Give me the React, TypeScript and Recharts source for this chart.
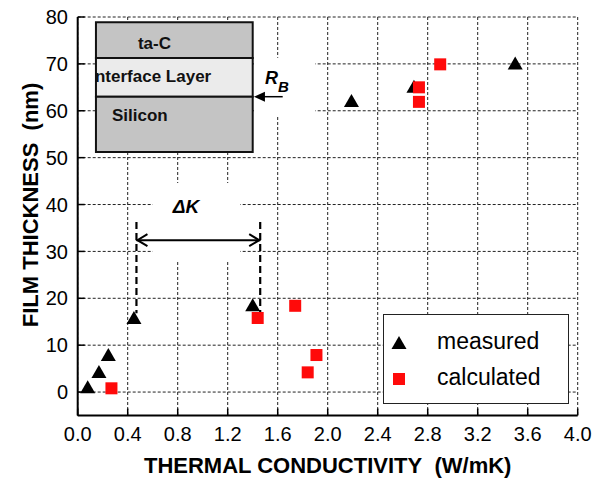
import {
  CartesianGrid,
  Label,
  Legend,
  ReferenceArea,
  ReferenceLine,
  Scatter,
  ScatterChart,
  XAxis,
  YAxis,
} from "recharts"

// thermal conductivity (W/mK) and film thickness (nm)
const measuredK = [0.08, 0.17, 0.245, 0.45, 1.4, 2.19, 2.69, 3.5]
const measuredT = [1.0, 4.3, 7.9, 15.8, 18.5, 62.1, 65.1, 70.1]
const calculatedK = [0.27, 1.44, 1.74, 1.84, 1.91, 2.73, 2.73, 2.9]
const calculatedT = [0.8, 15.8, 18.4, 4.2, 7.9, 61.9, 65.0, 69.9]

const xMajorTicks = [0, 0.4, 0.8, 1.2, 1.6, 2.0, 2.4, 2.8, 3.2, 3.6, 4.0]
const xMinorTicks = [0.2, 0.6, 1.0, 1.4, 1.8, 2.2, 2.6, 3.0, 3.4, 3.8]
const yMajorTicks = [0, 10, 20, 30, 40, 50, 60, 70, 80]
const yMinorTicks = [-5, 5, 15, 25, 35, 45, 55, 65, 75]

const seriesNames = ["measured", "calculated"]

const measured = measuredK.map((k, i) => ({ k, t: measuredT[i] }))
const calculated = calculatedK.map((k, i) => ({ k, t: calculatedT[i] }))

const FONT = "'Liberation Sans', Arial, sans-serif"
const RED = "#ff0a0a"
const SP = "\u00a0\u00a0"

const Triangle = ({ cx, cy }: any) => (
  <polygon points={`${cx},${cy - 7} ${cx + 7.5},${cy + 6} ${cx - 7.5},${cy + 6}`} fill="#000" />
)

const Square = ({ cx, cy }: any) => <rect x={cx - 6} y={cy - 6} width={12} height={12} fill={RED} />

// line with open chevrons on both ends (delta K)
const DoubleArrow = (p: any) => {
  const { x1, y1, x2, y2 } = p
  const a = Math.min(x1, x2)
  const b = Math.max(x1, x2)
  return (
    <g stroke="#000" strokeWidth={2} fill="none">
      <line x1={a} y1={y1} x2={b} y2={y2} />
      <polyline points={`${a + 11},${y1 - 6} ${a + 1},${y1} ${a + 11},${y1 + 6}`} />
      <polyline points={`${b - 11},${y1 - 6} ${b - 1},${y1} ${b - 11},${y1 + 6}`} />
    </g>
  )
}

// R_B pointer with filled head at the end point
const Pointer = (p: any) => {
  const { x1, y1, x2, y2 } = p
  return (
    <g>
      <line x1={x1} y1={y1} x2={x2 + 8} y2={y2} stroke="#000" strokeWidth={1.5} />
      <polygon points={`${x2},${y2} ${x2 + 11},${y2 - 5} ${x2 + 11},${y2 + 5}`} fill="#000" />
    </g>
  )
}

const DashedMark = (p: any) => (
  <line x1={p.x1} y1={p.y1} x2={p.x2} y2={p.y2} stroke="#000" strokeWidth={2.2} strokeDasharray="7 4" />
)

const boxText = (text: string, dx: number, dy: number, clipId?: string) => (p: any) => {
  const vb = p.viewBox
  return (
    <g>
      {clipId && (
        <defs>
          <clipPath id={clipId}>
            <rect x={vb.x} y={vb.y} width={vb.width} height={vb.height} />
          </clipPath>
        </defs>
      )}
      <text
        x={vb.x + dx}
        y={vb.y + dy}
        fontFamily={FONT}
        fontWeight="bold"
        fontSize={17}
        fill="#111"
        clipPath={clipId ? `url(#${clipId})` : undefined}
      >
        {text}
      </text>
    </g>
  )
}

const deltaKLabel = (p: any) => {
  const vb = p.viewBox
  return (
    <text x={vb.x + 20} y={vb.y + 30.5} fontFamily={FONT} fontWeight="bold" fontStyle="italic" fontSize={19} fill="#000">
      ΔK
    </text>
  )
}

const rbLabel = (p: any) => {
  const vb = p.viewBox
  return (
    <text x={vb.x + 11} y={vb.y + 26.5} fontFamily={FONT} fontWeight="bold" fontStyle="italic" fontSize={18} fill="#000">
      R
      <tspan dx={0} dy={7.5} fontSize={15}>B</tspan>
    </text>
  )
}

const LegendBox = () => (
  <div
    style={{
      width: 186,
      height: 90,
      boxSizing: "border-box",
      border: "1.5px solid #222",
      background: "#fff",
      fontFamily: FONT,
      fontSize: 23,
      color: "#000",
      position: "relative",
    }}
  >
    {seriesNames.map((name, i) => (
      <div key={name} style={{ position: "absolute", left: 0, top: i === 0 ? 15 : 51, height: 26, width: "100%" }}>
        <svg width={30} height={26} style={{ position: "absolute", left: 1, top: 0 }}>
          {i === 0 ? (
            <polygon points="14,6 21.5,19 6.5,19" fill="#000" />
          ) : (
            <rect x={8} y={7} width={12} height={12} fill={RED} />
          )}
        </svg>
        <span style={{ position: "absolute", left: 53, top: -2, lineHeight: "26px" }}>{name}</span>
      </div>
    ))}
  </div>
)

const tickStyle = { fill: "#000", fontSize: 20, fontFamily: FONT }
const frame = { stroke: "#000", strokeWidth: 2 }
const tickLn = { stroke: "#000", strokeWidth: 1.5 }

export default function App() {
  return (
    <div style={{ position: "absolute", left: 0, top: 0, width: 605, height: 483, background: "#fff" }}>
      <ScatterChart width={605} height={483} margin={{ top: 17, right: 27.3, left: 17.7, bottom: 0 }}>
        {/* minor ticks first so they sit right on the frame */}
        <XAxis xAxisId="bm" type="number" dataKey="k" domain={[0, 4]} ticks={xMinorTicks} interval={0} height={0} tick={false} tickSize={-4} axisLine={frame} tickLine={tickLn} />
        <XAxis
          xAxisId="x"
          type="number"
          dataKey="k"
          domain={[0, 4]}
          ticks={xMajorTicks}
          interval={0}
          height={67.5}
          tickSize={-7}
          tickMargin={18.5}
          tick={tickStyle}
          tickFormatter={(v: number) => v.toFixed(1)}
          axisLine={frame}
          tickLine={tickLn}
        >
          <Label
            content={(p: any) => {
              const vb = p.viewBox
              return (
                <text x={vb.x + vb.width / 2} y={vb.y + 57.5} textAnchor="middle" fontFamily={FONT} fontWeight="bold" fontSize={22} fill="#000">
                  {`THERMAL CONDUCTIVITY${SP}(W/mK)`}
                </text>
              )
            }}
          />
        </XAxis>
        <XAxis xAxisId="tm" orientation="top" type="number" dataKey="k" domain={[0, 4]} ticks={xMinorTicks} interval={0} height={0} tick={false} tickSize={-4} axisLine={frame} tickLine={tickLn} />
        <XAxis xAxisId="t" orientation="top" type="number" dataKey="k" domain={[0, 4]} ticks={xMajorTicks} interval={0} height={0} tick={false} tickSize={-7} axisLine={frame} tickLine={tickLn} />

        <YAxis yAxisId="lm" type="number" dataKey="t" domain={[-5, 80]} ticks={yMinorTicks} interval={0} width={0} tick={false} tickSize={-4} axisLine={frame} tickLine={tickLn} />
        <YAxis
          yAxisId="y"
          type="number"
          dataKey="t"
          domain={[-5, 80]}
          ticks={yMajorTicks}
          interval={0}
          width={60}
          tickSize={-7}
          tickMargin={16.7}
          tick={tickStyle}
          axisLine={frame}
          tickLine={tickLn}
        >
          <Label
            content={() => {
              const cy = 205
              return (
                <text x={38} y={cy} transform={`rotate(-90, 38, ${cy})`} textAnchor="middle" fontFamily={FONT} fontWeight="bold" fontSize={22} fill="#000">
                  {`FILM THICKNESS${SP}(nm)`}
                </text>
              )
            }}
          />
        </YAxis>
        <YAxis yAxisId="rm" orientation="right" type="number" dataKey="t" domain={[-5, 80]} ticks={yMinorTicks} interval={0} width={0} tick={false} tickSize={-4} axisLine={frame} tickLine={tickLn} />
        <YAxis yAxisId="r" orientation="right" type="number" dataKey="t" domain={[-5, 80]} ticks={yMajorTicks} interval={0} width={0} tick={false} tickSize={-7} axisLine={frame} tickLine={tickLn} />

        <CartesianGrid xAxisId="x" yAxisId="y" stroke="#222" strokeWidth={1} strokeDasharray="3 2" />

        {/* white patches behind the annotations */}
        <ReferenceArea xAxisId="x" yAxisId="y" x1={0.6} x2={1.3} y1={28} y2={44.6} fill="#fff" fillOpacity={1} stroke="none" label={deltaKLabel} />
        <ReferenceArea xAxisId="x" yAxisId="y" x1={1.41} x2={1.9} y1={59} y2={71.3} fill="#fff" fillOpacity={1} stroke="none" label={rbLabel} />

        {/* layer stack inset */}
        <ReferenceArea xAxisId="x" yAxisId="y" x1={0.146} x2={1.4} y1={71.25} y2={78.9} fill="#c4c4c4" fillOpacity={1} stroke="#111" strokeWidth={2} label={boxText("ta-C", 42, 26.5)} />
        <ReferenceArea xAxisId="x" yAxisId="y" x1={0.146} x2={1.4} y1={63.0} y2={71.25} fill="#ebebeb" fillOpacity={1} stroke="#111" strokeWidth={2} label={boxText("Interface Layer", -5.7, 24, "ifclip")} />
        <ReferenceArea xAxisId="x" yAxisId="y" x1={0.146} x2={1.4} y1={51.2} y2={63.0} fill="#c4c4c4" fillOpacity={1} stroke="#111" strokeWidth={2} label={boxText("Silicon", 16, 24.5)} />
        <ReferenceLine xAxisId="x" yAxisId="y" segment={[{ x: 1.64, y: 63.0 }, { x: 1.41, y: 63.0 }]} shape={Pointer} />

        <Scatter xAxisId="x" yAxisId="y" name={seriesNames[0]} data={measured} shape={Triangle} isAnimationActive={false} />
        <Scatter xAxisId="x" yAxisId="y" name={seriesNames[1]} data={calculated} shape={Square} isAnimationActive={false} />

        {/* delta K markers */}
        <ReferenceLine xAxisId="x" yAxisId="y" segment={[{ x: 0.47, y: 36.3 }, { x: 0.47, y: 16.8 }]} shape={DashedMark} />
        <ReferenceLine xAxisId="x" yAxisId="y" segment={[{ x: 1.46, y: 36.3 }, { x: 1.46, y: 17.1 }]} shape={DashedMark} />
        <ReferenceLine xAxisId="x" yAxisId="y" segment={[{ x: 0.47, y: 32.4 }, { x: 1.46, y: 32.4 }]} shape={DoubleArrow} />

        <Legend
          layout="vertical"
          align="center"
          verticalAlign="middle"
          content={LegendBox}
          wrapperStyle={{ position: "absolute", left: 383, top: 314, width: 186, height: 90 }}
        />
      </ScatterChart>
    </div>
  )
}
